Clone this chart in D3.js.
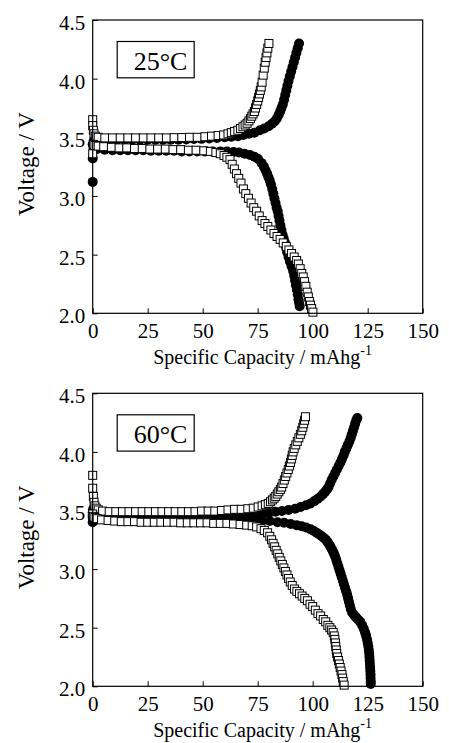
<!DOCTYPE html>
<html><head><meta charset="utf-8">
<script src="https://cdn.jsdelivr.net/npm/d3@7"></script>
<style>body{margin:0;background:#fff}</style>
</head><body><svg id="c" width="449" height="743"></svg>
<script>
// ---- data: [specific capacity (mAh/g), voltage (V)] ----
const xTicks = [0, 25, 50, 75, 100, 125, 150];
const yTicks = [2.0, 2.5, 3.0, 3.5, 4.0, 4.5];
const panelLabels = ["25\u00B0C", "60\u00B0C"];
const xTitle = "Specific Capacity / mAhg";
const xTitleSup = "-1";
const yTitle = "Voltage / V";

// 25 °C
const circ25Charge = [[0,3.12],[0,3.32],[0.2,3.44],[0.5,3.47],[1.5,3.48],[4,3.48],[7.5,3.48],[11,3.48],[14.5,3.48],[18,3.48],[21.5,3.48],[25,3.48],[28.5,3.48],[32,3.48],[35.5,3.48],[39,3.48],[42.5,3.482],[46,3.485],[49.5,3.487],[53,3.49],[56.5,3.495],[60,3.50],[63,3.505],[66,3.51],[68.5,3.52],[71,3.53],[73.5,3.54],[76,3.56],[78,3.575],[80,3.595],[81.5,3.615],[82.7,3.635],[83.7,3.66],[84.5,3.69],[85.2,3.72],[85.8,3.75],[86.4,3.78],[87,3.82],[87.5,3.86],[88,3.90],[88.5,3.94],[89,3.98],[89.6,4.02],[90.2,4.06],[90.8,4.10],[91.4,4.14],[92,4.18],[92.6,4.22],[93.2,4.26],[93.8,4.30]];
const circ25Discharge = [[0,3.44],[0.4,3.41],[2,3.40],[5.5,3.395],[9,3.39],[12.5,3.39],[16,3.39],[19.5,3.39],[23,3.39],[26.5,3.385],[30,3.385],[33.5,3.385],[37,3.385],[40.5,3.38],[44,3.38],[47.5,3.38],[51,3.38],[54.5,3.38],[58,3.38],[61,3.38],[64,3.375],[66.5,3.37],[69,3.36],[71.5,3.35],[73.5,3.335],[75.2,3.315],[76.8,3.28],[77.8,3.25],[78.6,3.22],[79.3,3.19],[79.9,3.16],[80.5,3.13],[81,3.10],[81.6,3.06],[82.1,3.02],[82.6,2.98],[83.1,2.94],[83.6,2.90],[84.1,2.87],[84.5,2.83],[84.9,2.79],[85.3,2.75],[85.8,2.71],[86.3,2.67],[86.8,2.64],[87.4,2.60],[87.9,2.56],[88.4,2.52],[89,2.48],[89.7,2.44],[90.4,2.40],[91.1,2.36],[91.6,2.32],[92,2.28],[92.4,2.24],[92.8,2.20],[93.2,2.16],[93.5,2.12],[93.8,2.09],[94.1,2.06]];
const sq25Charge = [[0,3.65],[0,3.60],[0.3,3.56],[0.6,3.53],[1.2,3.51],[2.5,3.50],[5.5,3.495],[9,3.495],[12.5,3.495],[16,3.495],[19.5,3.495],[23,3.495],[26.5,3.495],[30,3.495],[33.5,3.495],[37,3.497],[40.5,3.498],[44,3.50],[47.5,3.50],[51,3.505],[54,3.51],[57,3.515],[59.5,3.52],[61.5,3.53],[63,3.54],[64.5,3.55],[66,3.56],[67.2,3.575],[68.3,3.59],[69.3,3.605],[70.2,3.62],[71,3.64],[71.7,3.66],[72.3,3.68],[72.9,3.70],[73.5,3.72],[74,3.75],[74.5,3.78],[75,3.81],[75.4,3.84],[75.8,3.87],[76.2,3.90],[76.6,3.93],[77,3.97],[77.5,4.03],[78,4.09],[78.4,4.14],[78.8,4.18],[79.2,4.22],[79.6,4.26],[80.1,4.30]];
const sq25Discharge = [[0,3.36],[0.3,3.44],[1,3.43],[2.5,3.425],[5,3.42],[8.5,3.415],[12,3.41],[15.5,3.41],[19,3.405],[22.5,3.405],[26,3.40],[29.5,3.40],[33,3.40],[36.5,3.395],[40,3.395],[43.5,3.39],[47,3.39],[50.5,3.385],[53.5,3.38],[56,3.37],[58,3.36],[59.7,3.345],[61,3.33],[62.4,3.31],[63.4,3.27],[64.4,3.23],[65.4,3.19],[66.4,3.15],[67.4,3.11],[68.5,3.06],[69.6,3.02],[70.8,2.98],[72,2.94],[73.2,2.90],[74.5,2.87],[75.7,2.83],[77,2.79],[78.3,2.765],[79.6,2.74],[81,2.71],[82.4,2.68],[83.8,2.655],[85.2,2.63],[86.6,2.60],[88,2.57],[89.2,2.54],[90.4,2.51],[91.6,2.48],[92.7,2.45],[93.5,2.42],[94.3,2.38],[95,2.34],[95.7,2.31],[96.3,2.27],[96.9,2.23],[97.5,2.18],[98,2.14],[98.5,2.10],[99,2.07],[99.5,2.04],[100.1,2.01]];

// 60 °C
const circ60Charge = [[0,3.40],[0,3.44],[0,3.48],[0.2,3.51],[0.5,3.49],[1.5,3.47],[4,3.46],[7,3.46],[10,3.46],[13,3.46],[16,3.46],[19,3.46],[22,3.46],[25,3.46],[28,3.46],[31,3.46],[34,3.46],[37,3.46],[40,3.46],[43,3.46],[46,3.46],[49,3.46],[52,3.46],[55,3.46],[58,3.46],[61,3.46],[64,3.46],[68,3.465],[71,3.47],[74,3.47],[77,3.475],[80,3.48],[83,3.49],[86,3.495],[89,3.505],[92,3.515],[94.5,3.53],[97,3.545],[99,3.56],[100.8,3.58],[102.3,3.60],[103.6,3.62],[104.7,3.64],[105.7,3.66],[106.5,3.68],[107.2,3.70],[107.9,3.73],[108.6,3.76],[109.4,3.79],[110.2,3.82],[111,3.85],[111.8,3.88],[112.6,3.91],[113.3,3.94],[114,3.97],[114.6,4.00],[115.3,4.03],[116,4.06],[116.7,4.09],[117.3,4.12],[117.8,4.15],[118.3,4.18],[118.8,4.21],[119.3,4.24],[119.8,4.27],[120.3,4.29]];
const circ60Discharge = [[0,3.46],[1,3.45],[3.5,3.445],[7,3.44],[10.5,3.44],[14,3.44],[17.5,3.44],[21,3.44],[24.5,3.44],[28,3.44],[31.5,3.435],[35,3.435],[38.5,3.435],[42,3.435],[45.5,3.43],[49,3.43],[52.5,3.43],[56,3.43],[59.5,3.43],[63,3.425],[66.5,3.425],[70,3.42],[73.5,3.42],[77,3.415],[80.5,3.41],[84,3.40],[87,3.395],[90,3.385],[92.7,3.375],[95,3.365],[97,3.355],[99,3.34],[100.5,3.325],[101.8,3.31],[103,3.295],[104.1,3.28],[105.1,3.265],[106,3.25],[106.8,3.23],[107.5,3.21],[108.1,3.19],[108.7,3.17],[109.2,3.15],[109.7,3.13],[110.2,3.11],[110.7,3.08],[111.2,3.05],[111.7,3.02],[112.2,2.99],[112.7,2.96],[113.2,2.93],[113.7,2.90],[114.2,2.87],[114.7,2.84],[115.2,2.81],[115.7,2.78],[116.1,2.75],[116.5,2.72],[116.9,2.69],[117.3,2.66],[117.9,2.63],[118.7,2.61],[119.6,2.59],[120.6,2.57],[121.6,2.55],[122.5,2.52],[123.2,2.49],[123.8,2.46],[124.3,2.43],[124.7,2.40],[125,2.37],[125.3,2.34],[125.5,2.31],[125.7,2.28],[125.8,2.25],[125.9,2.22],[126,2.19],[126.1,2.16],[126.2,2.13],[126.3,2.10],[126.3,2.07],[126.4,2.04],[126.4,2.02]];
const sq60Charge = [[0,3.80],[0,3.69],[0.3,3.62],[0.6,3.57],[1,3.54],[1.6,3.52],[2.5,3.505],[4.5,3.495],[7.5,3.49],[10.5,3.49],[13.5,3.49],[16.5,3.49],[19.5,3.49],[22.5,3.49],[25.5,3.49],[28.5,3.49],[31.5,3.49],[34.5,3.49],[37.5,3.49],[40.5,3.49],[43.5,3.49],[46.5,3.49],[49.5,3.495],[52.5,3.495],[55.5,3.495],[58.5,3.50],[61.5,3.505],[64.5,3.51],[67.5,3.51],[70.5,3.515],[73,3.52],[75.2,3.53],[77,3.54],[78.5,3.55],[79.8,3.56],[80.8,3.575],[81.7,3.59],[82.5,3.605],[83.2,3.62],[83.9,3.64],[84.6,3.66],[85.3,3.68],[85.9,3.70],[86.5,3.73],[87.1,3.76],[87.7,3.79],[88.3,3.82],[88.9,3.85],[89.4,3.88],[89.9,3.91],[90.3,3.94],[90.7,3.97],[91.1,4.00],[91.6,4.03],[92.3,4.06],[93,4.09],[93.7,4.12],[94.4,4.15],[95,4.18],[95.5,4.21],[95.9,4.24],[96.3,4.27],[96.7,4.30]];
const sq60Discharge = [[0,3.47],[0.3,3.45],[1,3.44],[2,3.43],[4,3.42],[7,3.415],[10,3.41],[13,3.405],[16,3.405],[19,3.405],[22,3.40],[25,3.40],[28,3.40],[31,3.40],[34,3.40],[37,3.40],[40,3.395],[43,3.395],[46,3.395],[49,3.395],[52,3.395],[55,3.39],[58,3.39],[61,3.39],[64,3.385],[67,3.38],[70,3.375],[72.5,3.37],[74.5,3.36],[76.5,3.345],[78,3.33],[79.5,3.31],[80.5,3.28],[81.3,3.25],[82,3.22],[82.7,3.19],[83.4,3.16],[84.1,3.13],[84.8,3.10],[85.5,3.07],[86.2,3.04],[86.9,3.01],[87.6,2.98],[88.3,2.95],[89,2.92],[89.8,2.89],[90.7,2.86],[91.7,2.83],[92.8,2.81],[94,2.79],[95.2,2.77],[96.4,2.75],[97.6,2.73],[98.8,2.70],[100,2.68],[101.2,2.65],[102.4,2.62],[103.6,2.60],[104.8,2.57],[105.9,2.55],[106.9,2.52],[107.8,2.50],[108.6,2.48],[109.3,2.46],[109.8,2.43],[110.1,2.40],[110.3,2.37],[110.5,2.34],[110.7,2.31],[110.9,2.28],[111.3,2.25],[111.7,2.22],[112.1,2.19],[112.5,2.16],[112.9,2.13],[113.3,2.10],[113.6,2.07],[113.9,2.04],[114.3,2.01]];

const panelCircles = [[circ25Charge, circ25Discharge], [circ60Charge, circ60Discharge]];
const panelSquares = [[sq25Charge, sq25Discharge], [sq60Charge, sq60Discharge]];

// ---- layout ----
const svg = d3.select('#c');
svg.append('rect').attr('width',449).attr('height',743).attr('fill','#fff');
const FONT = "'Liberation Serif','Times New Roman',Times,serif";
const frames = [
  {x0: 92.7, x1: 422.7, y0: 20, y1: 313.3},
  {x0: 92.7, x1: 422.7, y0: 393.3, y1: 686.3}
];

frames.forEach((f, i) => {
  const x = d3.scaleLinear().domain([0,150]).range([f.x0, f.x1]);
  const y = d3.scaleLinear().domain([2,4.5]).range([f.y1, f.y0]);
  const g = svg.append('g');

  // x axis
  const gx = g.append('g').attr('transform', `translate(0,${f.y1})`)
    .call(d3.axisBottom(x).tickValues(xTicks).tickSizeInner(-5).tickSizeOuter(0).tickPadding(10).tickFormat(d3.format('d')));
  gx.select('.domain').remove();
  gx.selectAll('line').attr('stroke','#000').attr('stroke-width',1);
  gx.selectAll('text').attr('font-family',FONT).attr('font-size',21).attr('fill','#000');

  // y axis
  const gy = g.append('g').attr('transform', `translate(${f.x0},0)`)
    .call(d3.axisLeft(y).tickValues(yTicks).tickSizeInner(-5).tickSizeOuter(0).tickPadding(7.5).tickFormat(d3.format('.1f')));
  gy.select('.domain').remove();
  gy.selectAll('line').attr('stroke','#000').attr('stroke-width',1);
  gy.selectAll('text').attr('font-family',FONT).attr('font-size',21).attr('fill','#000').attr('dy','0.45em');

  // data markers
  const marks = g.append('g');
  panelCircles[i].forEach(s => {
    marks.append('g').selectAll('circle').data(s).join('circle')
      .attr('cx', d => x(d[0])).attr('cy', d => y(d[1])).attr('r', 5).attr('fill', '#000');
  });
  panelSquares[i].forEach(s => {
    marks.append('g').selectAll('rect').data(s).join('rect')
      .attr('x', d => x(d[0]) - 4).attr('y', d => y(d[1]) - 4)
      .attr('width', 8).attr('height', 8)
      .attr('fill', '#fff').attr('stroke', '#000').attr('stroke-width', 1);
  });

  // frame
  g.append('rect').attr('x', f.x0).attr('y', f.y0)
    .attr('width', f.x1 - f.x0).attr('height', f.y1 - f.y0)
    .attr('fill', 'none').attr('stroke', '#000').attr('stroke-width', 1.2);

  // temperature label box
  g.append('rect').attr('x', f.x0 + 24.5).attr('y', f.y0 + 21.5)
    .attr('width', 77).attr('height', 36.3)
    .attr('fill', '#fff').attr('stroke', '#000').attr('stroke-width', 1.2);
  g.append('text').attr('x', f.x0 + 41).attr('y', f.y0 + 49.5)
    .attr('font-family', FONT).attr('font-size', 26).attr('fill', '#000')
    .text(panelLabels[i]);

  // axis titles
  const xt = g.append('text').attr('x', f.x0 + 60.5).attr('y', f.y1 + 50.7)
    .attr('font-family', FONT).attr('font-size', 20).attr('fill', '#000');
  xt.append('tspan').text(xTitle);
  xt.append('tspan').attr('font-size', 14).attr('dy', -9).text(xTitleSup);

  g.append('text')
    .attr('transform', `translate(34,${(f.y0 + f.y1) / 2 - 2.5}) rotate(-90)`)
    .attr('text-anchor', 'middle')
    .attr('font-family', FONT).attr('font-size', 23).attr('fill', '#000')
    .text(yTitle);
});
</script></body></html>
